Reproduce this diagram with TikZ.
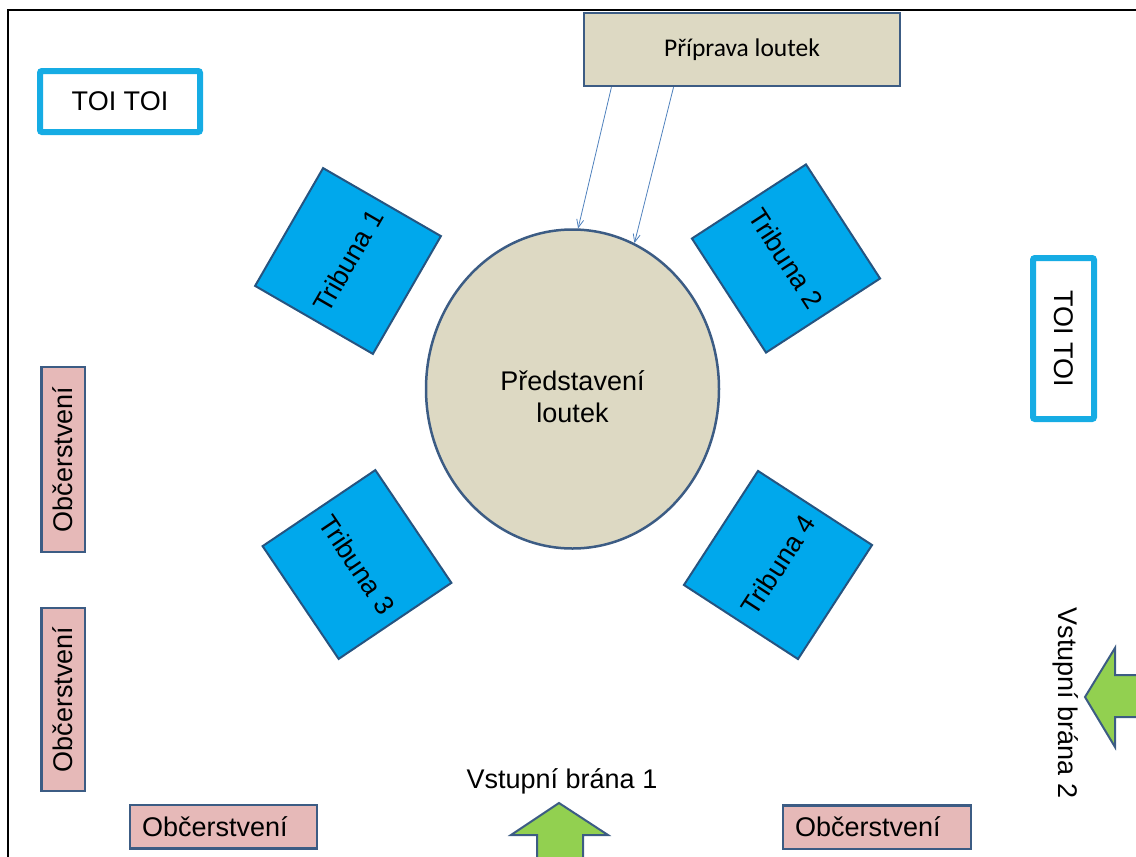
\documentclass[tikz,border=0pt]{standalone}
\usepackage{fontspec}
\setmainfont{Liberation Sans}
\newfontfamily\calfont{Carlito}
\usetikzlibrary{shapes.geometric,arrows.meta,calc}
\definecolor{beige}{RGB}{221,217,195}
\definecolor{slate}{RGB}{60,92,132}
\definecolor{cyanb}{RGB}{22,172,228}
\definecolor{tribfill}{RGB}{0,168,236}
\definecolor{tribdraw}{RGB}{38,84,128}
\definecolor{pinkf}{RGB}{230,185,184}
\definecolor{greenf}{RGB}{146,208,80}
\definecolor{arrowc}{RGB}{79,129,189}
\begin{document}
\begin{tikzpicture}[x=1pt,y=-1pt,
  every node/.style={font=\fontsize{27}{31}\selectfont, inner sep=0pt},
  toibox/.style={draw=cyanb, line width=6pt, rounded corners=2pt, fill=white},
  tribbox/.style={draw=tribdraw, line width=2pt, fill=tribfill, minimum size=136pt},
  snackbox/.style={draw=slate, line width=2.5pt, fill=pinkf, minimum height=43.5pt},
  gatearrow/.style={draw=slate, line width=2pt, fill=greenf, line join=miter},
  feed/.style={draw=arrowc, line width=0.8pt, -{Straight Barb[length=8pt,width=7pt]}}
]
\useasboundingbox (0,0) rectangle (1136,857);
\clip (0,0) rectangle (1136,857);
% frame
\draw[line width=2pt] (8,880) -- (8,10) -- (1150,10);

% toilets
\node[toibox, minimum width=160pt, minimum height=61pt] (toi1) at (120,101.5) {TOI TOI};
\node[toibox, rotate=-90, minimum width=161pt, minimum height=61pt] (toi2) at (1063.5,338.5) {TOI TOI};

% preparation
\node[draw=slate, line width=2.5pt, fill=beige, minimum width=316pt, minimum height=73pt,
      font=\calfont\fontsize{25.5}{29}\selectfont] (prip) at (742,49.5) {Příprava loutek};

% stage
\node[ellipse, draw=slate, line width=2.5pt, fill=beige, minimum width=293pt, minimum height=319pt] (ell) at (572.5,389) {};
\node[align=center, font=\fontsize{27}{32}\selectfont] (elltext) at ($(ell.center)+(0,8)$) {Představení\\loutek};

\draw[feed] ($(prip.south west)!0.09!(prip.south east)$) -- (ell.88);
\draw[feed] ($(prip.south west)!0.285!(prip.south east)$) -- (ell.67);

% stands
\node[tribbox, rotate=60] (t1) at (348,261) {Tribuna 1};
\node[tribbox, rotate=-57] (t2) at (786,258.5) {Tribuna 2};
\node[tribbox, rotate=-56] (t3) at (357,564.5) {Tribuna 3};
\node[tribbox, rotate=57] (t4) at (778,565) {Tribuna 4};

% refreshments
\node[snackbox, rotate=90, minimum width=185pt] (o1) at (63,459.5) {Občerstvení};
\node[snackbox, rotate=90, minimum width=183pt] (o2) at (63,699.5) {Občerstvení};
\node[snackbox, minimum width=187pt, text width=163pt, inner xsep=12pt, align=left] (o3) at (223.5,826.5) {Občerstvení};
\node[snackbox, minimum width=188pt, text width=164pt, inner xsep=12pt, align=left] (o4) at (877,827) {Občerstvení};

% gates
\node (gate1) at (562,781) {Vstupní brána 1};
\node[rotate=-90] (gate2) at (1066,703) {Vstupní brána 2};
\draw[gatearrow] (559,803) -- (608,835) -- (583,835) -- (583,870) -- (537,870) -- (537,835) -- (511,835) -- cycle;
\draw[gatearrow] (1085,697) -- (1115,648) -- (1115,675) -- (1150,675) -- (1150,717) -- (1115,717) -- (1115,747) -- cycle;
\end{tikzpicture}
\end{document}
